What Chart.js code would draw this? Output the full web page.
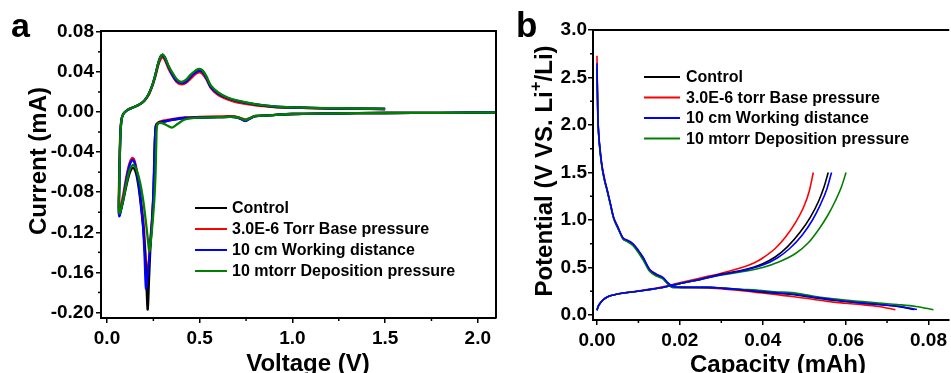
<!DOCTYPE html>
<html>
<head>
<meta charset="utf-8">
<script src="https://cdn.jsdelivr.net/npm/chart.js@4.4.0/dist/chart.umd.min.js"></script>
<style>
  html, body { margin: 0; padding: 0; background: #fff; }
  #wrap { position: relative; width: 951px; height: 373px; overflow: hidden; }
  #cvBox { position: absolute; left: 0; top: 0; }
  #gcBox { position: absolute; left: 500px; top: 0; }
</style>
</head>
<body>
<div id="wrap">
  <canvas id="cvBox" width="500" height="373"></canvas>
  <canvas id="gcBox" width="451" height="373"></canvas>
</div>
<script>
// ---- series names / ticks ----
const namesA = ['Control', '3.0E-6 Torr Base pressure', '10 cm Working distance', '10 mtorr Deposition pressure'];
const namesB = ['Control', '3.0E-6 torr Base pressure', '10 cm Working distance', '10 mtorr Deposition pressure'];
const cvVoltTicks = [0, 0.5, 1.0, 1.5, 2.0];
const cvCurrTicks = [-0.2, -0.16, -0.12, -0.08, -0.04, 0, 0.04, 0.08];
const capTicks = [0, 0.02, 0.04, 0.06, 0.08];
const potTicks = [0, 0.5, 1.0, 1.5, 2.0, 2.5, 3.0];

// ---- (a) cyclic voltammetry: voltage (V) / current (mA), one closed sweep each ----
const cvVoltControl = [
  2.1, 1.8, 1.5, 1.2, 1.0, 0.86, 0.8, 0.77, 0.745, 0.72,
  0.69, 0.66, 0.6, 0.5, 0.42, 0.36, 0.32, 0.295, 0.275, 0.263,
  0.257, 0.252, 0.245, 0.235, 0.227, 0.2195, 0.214, 0.205, 0.195, 0.185,
  0.172, 0.158, 0.145, 0.135, 0.122, 0.105, 0.088, 0.075, 0.067, 0.064,
  0.066, 0.069, 0.073, 0.079, 0.088, 0.1, 0.115, 0.14, 0.17, 0.2,
  0.225, 0.245, 0.262, 0.277, 0.29, 0.3, 0.312, 0.33, 0.35, 0.375,
  0.4, 0.425, 0.45, 0.475, 0.497, 0.515, 0.535, 0.56, 0.6, 0.65,
  0.7, 0.8, 0.9, 1.0, 1.2, 1.5];
const cvCurrControl = [
  -0.0005, -0.0008, -0.001, -0.0015, -0.002, -0.0035, -0.004, -0.0065, -0.0088, -0.0065,
  -0.005, -0.0048, -0.0052, -0.0056, -0.006, -0.0075, -0.009, -0.0098, -0.011, -0.014,
  -0.04, -0.075, -0.105, -0.132, -0.165, -0.197, -0.178, -0.14, -0.115, -0.097,
  -0.077, -0.062, -0.056, -0.056, -0.061, -0.073, -0.088, -0.098, -0.103, -0.1,
  -0.075, -0.045, -0.02, -0.007, -0.002, 0.0005, 0.0025, 0.0045, 0.007, 0.011,
  0.018, 0.027, 0.038, 0.049, 0.0555, 0.057, 0.054, 0.046, 0.039, 0.032,
  0.0295, 0.031, 0.036, 0.0405, 0.0425, 0.041, 0.035, 0.025, 0.0185, 0.014,
  0.011, 0.0075, 0.0052, 0.0045, 0.0036, 0.003];

const cvVoltBase = [
  2.1, 1.8, 1.5, 1.2, 1.0, 0.86, 0.8, 0.77, 0.745, 0.72,
  0.69, 0.66, 0.6, 0.5, 0.42, 0.36, 0.32, 0.295, 0.275, 0.263,
  0.257, 0.252, 0.245, 0.235, 0.226, 0.219, 0.214, 0.207, 0.197, 0.185,
  0.17, 0.155, 0.145, 0.135, 0.12, 0.103, 0.088, 0.075, 0.067, 0.063,
  0.065, 0.068, 0.072, 0.078, 0.088, 0.1, 0.115, 0.14, 0.17, 0.2,
  0.225, 0.245, 0.262, 0.277, 0.29, 0.3, 0.312, 0.33, 0.35, 0.375,
  0.4, 0.425, 0.45, 0.475, 0.497, 0.515, 0.535, 0.56, 0.6, 0.65,
  0.7, 0.8, 0.9, 1.0, 1.2, 1.5];
const cvCurrBase = [
  -0.0005, -0.0008, -0.001, -0.0015, -0.002, -0.0035, -0.004, -0.006, -0.0075, -0.006,
  -0.0045, -0.0042, -0.0045, -0.005, -0.0055, -0.0068, -0.0082, -0.009, -0.0105, -0.014,
  -0.04, -0.075, -0.1, -0.125, -0.148, -0.158, -0.163, -0.14, -0.11, -0.09,
  -0.068, -0.053, -0.047, -0.046, -0.052, -0.066, -0.082, -0.093, -0.098, -0.094,
  -0.07, -0.043, -0.02, -0.007, -0.002, 0.0005, 0.0025, 0.0045, 0.007, 0.011,
  0.017, 0.026, 0.036, 0.047, 0.053, 0.0545, 0.052, 0.044, 0.037, 0.030,
  0.0275, 0.029, 0.033, 0.0375, 0.0395, 0.038, 0.033, 0.024, 0.017, 0.0125,
  0.0095, 0.0065, 0.005, 0.0043, 0.0035, 0.003];

const cvVoltDistance = [
  2.1, 1.8, 1.5, 1.2, 1.0, 0.86, 0.8, 0.77, 0.745, 0.72,
  0.69, 0.66, 0.6, 0.5, 0.42, 0.36, 0.32, 0.295, 0.275, 0.263,
  0.256, 0.251, 0.244, 0.234, 0.225, 0.217, 0.21, 0.203, 0.195, 0.185,
  0.17, 0.155, 0.145, 0.135, 0.12, 0.103, 0.088, 0.075, 0.067, 0.064,
  0.066, 0.069, 0.073, 0.079, 0.088, 0.1, 0.115, 0.14, 0.17, 0.2,
  0.225, 0.245, 0.262, 0.277, 0.29, 0.3, 0.312, 0.33, 0.35, 0.375,
  0.4, 0.425, 0.45, 0.475, 0.497, 0.515, 0.535, 0.56, 0.6, 0.65,
  0.7, 0.8, 0.9, 1.0, 1.2, 1.5];
const cvCurrDistance = [
  -0.0005, -0.0008, -0.001, -0.0015, -0.002, -0.0035, -0.004, -0.0068, -0.009, -0.0068,
  -0.005, -0.0048, -0.0052, -0.0056, -0.006, -0.0075, -0.0092, -0.01, -0.0115, -0.015,
  -0.04, -0.075, -0.105, -0.13, -0.152, -0.165, -0.176, -0.145, -0.115, -0.095,
  -0.07, -0.055, -0.049, -0.048, -0.054, -0.069, -0.086, -0.098, -0.104, -0.1,
  -0.075, -0.045, -0.02, -0.007, -0.002, 0.0005, 0.0025, 0.0045, 0.007, 0.011,
  0.018, 0.027, 0.038, 0.049, 0.0555, 0.057, 0.054, 0.046, 0.038, 0.031,
  0.029, 0.030, 0.035, 0.039, 0.041, 0.040, 0.034, 0.025, 0.0185, 0.014,
  0.011, 0.0075, 0.0055, 0.0046, 0.0037, 0.003];

const cvVoltDeposition = [
  2.1, 1.8, 1.5, 1.2, 1.0, 0.86, 0.8, 0.77, 0.745, 0.72,
  0.69, 0.66, 0.6, 0.5, 0.42, 0.38, 0.35, 0.32, 0.295, 0.272,
  0.266, 0.262, 0.256, 0.248, 0.24, 0.233, 0.228, 0.222, 0.21, 0.195,
  0.178, 0.16, 0.148, 0.138, 0.124, 0.106, 0.09, 0.077, 0.068, 0.064,
  0.066, 0.069, 0.073, 0.079, 0.088, 0.1, 0.115, 0.14, 0.17, 0.2,
  0.225, 0.245, 0.262, 0.277, 0.29, 0.3, 0.312, 0.33, 0.35, 0.375,
  0.4, 0.425, 0.45, 0.475, 0.497, 0.515, 0.535, 0.56, 0.6, 0.65,
  0.7, 0.8, 0.9, 1.0, 1.2, 1.5];
const cvCurrDeposition = [
  -0.0005, -0.0008, -0.001, -0.0015, -0.002, -0.0035, -0.004, -0.0062, -0.008, -0.0062,
  -0.005, -0.0048, -0.0052, -0.0056, -0.0075, -0.012, -0.0155, -0.013, -0.011, -0.012,
  -0.03, -0.06, -0.085, -0.105, -0.122, -0.133, -0.139, -0.13, -0.11, -0.088,
  -0.07, -0.058, -0.054, -0.053, -0.057, -0.07, -0.085, -0.096, -0.101, -0.098,
  -0.073, -0.044, -0.02, -0.007, -0.002, 0.0005, 0.0025, 0.0045, 0.007, 0.011,
  0.018, 0.027, 0.038, 0.049, 0.0555, 0.0575, 0.0548, 0.047, 0.04, 0.033,
  0.030, 0.032, 0.037, 0.041, 0.043, 0.0415, 0.036, 0.0265, 0.0195, 0.0145,
  0.0115, 0.0078, 0.0056, 0.0047, 0.0038, 0.0032];

// ---- (b) galvanostatic profiles: capacity (mAh) / potential (V) ----
const dchCapControl = [0, 0.0001, 0.0002, 0.0004, 0.0008, 0.0012, 0.0018, 0.0025, 0.0032, 0.004,
  0.005, 0.0063, 0.0072, 0.0087, 0.01, 0.0111, 0.0127, 0.0143, 0.0159, 0.0171,
  0.0183, 0.0215, 0.027, 0.031, 0.035, 0.039, 0.043, 0.047, 0.052, 0.057,
  0.063, 0.068, 0.0725, 0.0766];
const dchPotControl = [2.6, 2.35, 2.1, 1.9, 1.7, 1.56, 1.42, 1.3, 1.17, 1.02,
  0.92, 0.8, 0.78, 0.74, 0.67, 0.6, 0.47, 0.42, 0.386, 0.33,
  0.29, 0.29, 0.29, 0.28, 0.265, 0.245, 0.23, 0.215, 0.185, 0.155,
  0.13, 0.11, 0.09, 0.058];
const chCapControl = [0, 0.0003, 0.0008, 0.0015, 0.0025, 0.004, 0.006, 0.009, 0.012, 0.015,
  0.018, 0.021, 0.025, 0.03, 0.035, 0.04, 0.043, 0.046, 0.049, 0.0515,
  0.0535, 0.0548, 0.0558];
const chPotControl = [0.05, 0.09, 0.125, 0.16, 0.19, 0.21, 0.228, 0.245, 0.263, 0.283,
  0.31, 0.34, 0.375, 0.43, 0.47, 0.54, 0.61, 0.72, 0.87, 1.03,
  1.2, 1.35, 1.5];

const dchCapBase = [0, 0.0001, 0.0002, 0.0004, 0.0008, 0.0012, 0.0018, 0.0025, 0.0032, 0.004,
  0.005, 0.0063, 0.0072, 0.0087, 0.01, 0.0111, 0.0127, 0.0143, 0.0159, 0.0171,
  0.0183, 0.0215, 0.027, 0.031, 0.035, 0.039, 0.043, 0.047, 0.052, 0.057,
  0.063, 0.068, 0.072];
const dchPotBase = [2.73, 2.4, 2.12, 1.92, 1.72, 1.58, 1.44, 1.31, 1.18, 1.03,
  0.93, 0.81, 0.785, 0.745, 0.675, 0.6, 0.48, 0.43, 0.39, 0.335,
  0.295, 0.29, 0.285, 0.27, 0.255, 0.235, 0.215, 0.195, 0.165, 0.135,
  0.112, 0.09, 0.055];
const chCapBase = [0, 0.0003, 0.0008, 0.0015, 0.0025, 0.004, 0.006, 0.009, 0.012, 0.015,
  0.018, 0.021, 0.025, 0.03, 0.035, 0.038, 0.04, 0.043, 0.0455, 0.048,
  0.05, 0.0512, 0.0522];
const chPotBase = [0.05, 0.09, 0.125, 0.16, 0.19, 0.21, 0.228, 0.247, 0.267, 0.29,
  0.318, 0.35, 0.39, 0.44, 0.5, 0.55, 0.6, 0.7, 0.82, 0.98,
  1.15, 1.3, 1.5];

const dchCapDistance = [0, 0.0001, 0.0002, 0.0004, 0.0008, 0.0012, 0.0018, 0.0025, 0.0032, 0.004,
  0.005, 0.0063, 0.0072, 0.0087, 0.01, 0.0111, 0.0127, 0.0143, 0.0159, 0.0171,
  0.0183, 0.0215, 0.027, 0.031, 0.035, 0.039, 0.043, 0.047, 0.052, 0.057,
  0.063, 0.068, 0.0725, 0.0772];
const dchPotDistance = [2.65, 2.38, 2.12, 1.92, 1.72, 1.57, 1.43, 1.31, 1.18, 1.03,
  0.93, 0.81, 0.79, 0.75, 0.68, 0.61, 0.48, 0.43, 0.395, 0.34,
  0.3, 0.29, 0.29, 0.28, 0.265, 0.25, 0.235, 0.22, 0.19, 0.16,
  0.13, 0.11, 0.092, 0.058];
const chCapDistance = [0, 0.0003, 0.0008, 0.0015, 0.0025, 0.004, 0.006, 0.009, 0.012, 0.015,
  0.018, 0.021, 0.025, 0.03, 0.035, 0.04, 0.0435, 0.0465, 0.0495, 0.052,
  0.054, 0.0555, 0.0566];
const chPotDistance = [0.05, 0.09, 0.125, 0.16, 0.19, 0.21, 0.228, 0.245, 0.263, 0.283,
  0.31, 0.34, 0.375, 0.425, 0.465, 0.525, 0.6, 0.7, 0.84, 1.0,
  1.17, 1.33, 1.5];

const dchCapDeposition = [0, 0.0001, 0.0002, 0.0004, 0.0008, 0.0012, 0.0018, 0.0025, 0.0032, 0.004,
  0.005, 0.0063, 0.0072, 0.0087, 0.01, 0.0111, 0.0127, 0.0143, 0.0159, 0.0171,
  0.0183, 0.0215, 0.027, 0.031, 0.035, 0.039, 0.043, 0.047, 0.052, 0.057,
  0.063, 0.068, 0.0725, 0.077, 0.0812];
const dchPotDeposition = [2.6, 2.35, 2.1, 1.9, 1.7, 1.56, 1.42, 1.3, 1.17, 1.02,
  0.92, 0.8, 0.775, 0.73, 0.655, 0.58, 0.46, 0.41, 0.38, 0.325,
  0.29, 0.29, 0.29, 0.28, 0.27, 0.26, 0.245, 0.235, 0.2, 0.17,
  0.145, 0.125, 0.11, 0.09, 0.055];
const chCapDeposition = [0, 0.0003, 0.0008, 0.0015, 0.0025, 0.004, 0.006, 0.009, 0.012, 0.015,
  0.018, 0.021, 0.025, 0.03, 0.035, 0.04, 0.044, 0.048, 0.051, 0.0535,
  0.0557, 0.0575, 0.059, 0.0601];
const chPotDeposition = [0.05, 0.09, 0.125, 0.16, 0.19, 0.21, 0.228, 0.245, 0.263, 0.283,
  0.31, 0.34, 0.375, 0.42, 0.455, 0.5, 0.56, 0.65, 0.76, 0.9,
  1.05, 1.2, 1.35, 1.5];

// ---- styling ----
const FONT = "'Liberation Sans', Arial, sans-serif";
const colors = ['#000000', '#ff0000', '#0000ff', '#008000'];
const orderA = [3, 4, 2, 1];   // higher order is drawn underneath
const orderB = [3, 4, 1, 2];

const pts = (xs, ys) => xs.map((x, i) => ({ x: x, y: ys[i] }));
const fmt = d => v => (Math.abs(v) < 1e-9 ? 0 : v).toFixed(d);

// minor ticks halfway between the major ones, plus top/right frame
const framePlugin = {
  id: 'frame',
  afterDraw(chart, args, opts) {
    const { ctx, chartArea: a } = chart;
    ctx.save();
    ctx.strokeStyle = '#000';
    ctx.lineWidth = 2;
    ctx.beginPath();
    ctx.moveTo(a.left, a.top);
    ctx.lineTo(a.right, a.top);
    if (opts.right) ctx.lineTo(a.right, a.bottom);
    ctx.stroke();
    ctx.lineWidth = 1.5;
    ['x', 'y'].forEach(id => {
      const s = chart.scales[id];
      const t = s.ticks.map(k => k.value);
      const mids = [];
      for (let i = 0; i < t.length - 1; i++) mids.push((t[i] + t[i + 1]) / 2);
      const st = t[1] - t[0];
      mids.push(t[0] - st / 2, t[t.length - 1] + st / 2);
      mids.filter(m => m >= s.min && m <= s.max).forEach(m => {
        const p = s.getPixelForValue(m);
        ctx.beginPath();
        if (id === 'x') { ctx.moveTo(p, a.bottom); ctx.lineTo(p, a.bottom + 3); }
        else { ctx.moveTo(a.left, p); ctx.lineTo(a.left - 3, p); }
        ctx.stroke();
      });
    });
    ctx.restore();
  }
};

// legend inside the plot, one entry per label
const boxLegend = {
  id: 'boxLegend',
  afterDraw(chart, args, o) {
    const { ctx } = chart;
    const seen = [];
    chart.data.datasets.forEach(d => { if (!seen.find(s => s.label === d.label)) seen.push(d); });
    ctx.save();
    ctx.font = 'bold ' + o.size + 'px ' + FONT;
    ctx.textBaseline = 'middle';
    ctx.fillStyle = '#000';
    seen.forEach((d, i) => {
      const y = o.y + i * o.step;
      ctx.strokeStyle = d.borderColor;
      ctx.lineWidth = 2;
      ctx.beginPath();
      ctx.moveTo(o.x, y);
      ctx.lineTo(o.x + o.len, y);
      ctx.stroke();
      ctx.fillText(d.label, o.x + o.len + o.gap, y + 1);
    });
    ctx.restore();
  }
};

// axis titles and panel letter (supports a superscript piece)
const titlesPlugin = {
  id: 'titles',
  afterDraw(chart, args, o) {
    const { ctx } = chart;
    ctx.save();
    ctx.fillStyle = '#000';
    ctx.textBaseline = 'alphabetic';
    ctx.font = 'bold ' + o.letterSize + 'px ' + FONT;
    ctx.fillText(o.letter, o.letterX, o.letterY);

    const drawParts = (parts, size) => {
      let w = 0;
      parts.forEach(p => {
        ctx.font = 'bold ' + (p.sup ? size * 0.7 : size) + 'px ' + FONT;
        w += ctx.measureText(p.t).width;
      });
      let x = -w / 2;
      parts.forEach(p => {
        ctx.font = 'bold ' + (p.sup ? size * 0.7 : size) + 'px ' + FONT;
        ctx.fillText(p.t, x, size * 0.36 - (p.sup ? size * 0.45 : 0));
        x += ctx.measureText(p.t).width;
      });
    };
    ctx.save();
    ctx.translate(o.xCx, o.xCy);
    drawParts(o.xTitle, o.size);
    ctx.restore();
    ctx.save();
    ctx.translate(o.yCx, o.yCy);
    ctx.rotate(-Math.PI / 2);
    drawParts(o.yTitle, o.size);
    ctx.restore();
    ctx.restore();
  }
};

function axis(ticksArr, min, max, decimals, fit, isX, pad) {
  return {
    type: 'linear', min: min, max: max,
    afterFit: s => { if (isX) s.height = fit; else s.width = fit; },
    afterBuildTicks: s => { s.ticks = ticksArr.map(v => ({ value: v })); },
    ticks: {
      color: '#000', padding: pad, maxRotation: 0, autoSkip: false,
      font: { family: FONT, size: 19, weight: 'bold' },
      callback: fmt(decimals)
    },
    grid: { drawOnChartArea: false, drawTicks: true, tickLength: 5, color: '#000', lineWidth: 1.5 },
    border: { display: true, color: '#000', width: 2 }
  };
}

const cvSeries = [
  [cvVoltControl, cvCurrControl],
  [cvVoltBase, cvCurrBase],
  [cvVoltDistance, cvCurrDistance],
  [cvVoltDeposition, cvCurrDeposition]
];

new Chart(document.getElementById('cvBox'), {
  type: 'scatter',
  data: {
    datasets: cvSeries.map((s, i) => ({
      label: namesA[i], data: pts(s[0], s[1]),
      borderColor: colors[i], backgroundColor: colors[i],
      showLine: true, pointRadius: 0, borderWidth: 2.3, tension: 0.3, order: orderA[i]
    }))
  },
  options: {
    responsive: false, animation: false,
    layout: { padding: { top: 31, right: 4, left: 0, bottom: 0 } },
    scales: {
      x: axis(cvVoltTicks, -0.0324, 2.098, 1, 55, true, 4),
      y: axis(cvCurrTicks, -0.2055, 0.0808, 2, 101, false, 2)
    },
    plugins: {
      legend: { display: false }, tooltip: { enabled: false },
      frame: { right: true },
      boxLegend: { x: 195, y: 208, step: 21, len: 32, gap: 5, size: 16 },
      titles: {
        letter: 'a', letterX: 11, letterY: 37, letterSize: 34, size: 24,
        xTitle: [{ t: 'Voltage (V)' }], xCx: 308, xCy: 362,
        yTitle: [{ t: 'Current (mA)' }], yCx: 37, yCy: 161
      }
    }
  },
  plugins: [framePlugin, boxLegend, titlesPlugin]
});

const gcSeries = [
  [dchCapControl, dchPotControl, chCapControl, chPotControl],
  [dchCapBase, dchPotBase, chCapBase, chPotBase],
  [dchCapDistance, dchPotDistance, chCapDistance, chPotDistance],
  [dchCapDeposition, dchPotDeposition, chCapDeposition, chPotDeposition]
];
const gcSets = [];
gcSeries.forEach((s, i) => {
  [[s[0], s[1]], [s[2], s[3]]].forEach(pair => {
    gcSets.push({
      label: namesB[i], data: pts(pair[0], pair[1]),
      borderColor: colors[i], backgroundColor: colors[i],
      showLine: true, pointRadius: 0, borderWidth: 1.6,
      cubicInterpolationMode: 'monotone', order: orderB[i]
    });
  });
});

new Chart(document.getElementById('gcBox'), {
  type: 'scatter',
  data: { datasets: gcSets },
  options: {
    responsive: false, animation: false,
    layout: { padding: { top: 30, right: 0, left: 0, bottom: 0 } },
    scales: {
      x: axis(capTicks, -0.00096, 0.085, 2, 53, true, 4),
      y: axis(potTicks, -0.053, 3.0, 1, 93, false, 1)
    },
    plugins: {
      legend: { display: false }, tooltip: { enabled: false },
      frame: { right: false },
      boxLegend: { x: 144, y: 77, step: 20.5, len: 36, gap: 6, size: 16 },
      titles: {
        letter: 'b', letterX: 16, letterY: 37, letterSize: 35, size: 24,
        xTitle: [{ t: 'Capacity (mAh)' }], xCx: 278, xCy: 363,
        yTitle: [{ t: 'Potential (V VS. Li' }, { t: '+', sup: true }, { t: '/Li)' }], yCx: 43, yCy: 171
      }
    }
  },
  plugins: [framePlugin, boxLegend, titlesPlugin]
});
</script>
</body>
</html>
